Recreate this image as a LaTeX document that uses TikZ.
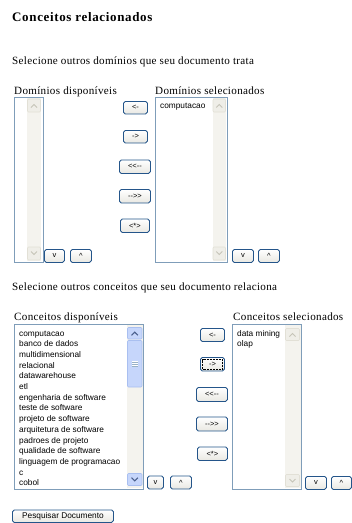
\documentclass[tikz,border=0pt]{standalone}
\usepackage{fontspec}
\setmainfont{Liberation Serif}
\newfontfamily\uifont{Liberation Sans}
\newfontfamily\spacedserif[LetterSpace=2.8]{Liberation Serif}
\newfontfamily\spacedbold[LetterSpace=5,BoldFont={Liberation Serif Bold}]{Liberation Serif}
\definecolor{lbborder}{HTML}{7F9DB9}
\definecolor{btnborder}{HTML}{24558A}
\definecolor{btntop}{HTML}{FFFFFF}
\definecolor{btnbot}{HTML}{E9E8E2}
\definecolor{track}{HTML}{F4F3EE}
\definecolor{arrfill}{HTML}{EFEEE8}
\definecolor{arrline}{HTML}{E2E0D6}
\definecolor{arrglyph}{HTML}{C6C4B8}
\definecolor{actfill}{HTML}{C6D6FB}
\definecolor{actline}{HTML}{A9BFF0}
\definecolor{actglyph}{HTML}{4A5F8C}
\tikzset{
  heading/.style={font=\spacedbold\bfseries\fontsize{13}{15}\selectfont, anchor=base west, inner sep=0pt},
  prompt/.style={font=\spacedserif\fontsize{11.1}{13}\selectfont, anchor=base west, inner sep=0pt},
  caption/.style={font=\spacedserif\fontsize{11.1}{13}\selectfont, anchor=base west, inner sep=0pt},
  item/.style={font=\uifont\fontsize{8.3}{10}\selectfont, anchor=base west, inner sep=0pt},
  listbox/.style={draw=lbborder, fill=white, line width=0.9pt, anchor=north west, inner sep=0pt},
  btnbox/.style={draw=btnborder, line width=0.9pt, rounded corners=1.8pt, top color=btntop, bottom color=btnbot,
    anchor=north west, inner sep=0pt, font=\uifont\fontsize{7.5}{9}\selectfont},
  trackbar/.style={fill=track},
  arrbox/.style={fill=arrfill, draw=arrline, line width=0.6pt, rounded corners=1pt},
  arrglyphs/.style={draw=arrglyph, line width=0.9pt},
  actbox/.style={fill=actfill, draw=actline, line width=0.6pt, rounded corners=1pt},
  actglyphs/.style={draw=actglyph, line width=1.1pt},
}
\begin{document}
\begin{tikzpicture}[x=1pt, y=-1pt]
\useasboundingbox[fill=white] (0,0) rectangle (352,523);

% ---------- headings ----------
\node[heading] (title) at (12,21.5) {Conceitos relacionados};
\node[prompt] (pdom) at (12,64.5) {Selecione outros domínios que seu documento trata};
\node[caption] (cdd) at (14,94.5) {Domínios disponíveis};
\node[caption] (cds) at (155,94.5) {Domínios selecionados};

% ---------- domain lists ----------
\node[listbox, minimum width=29pt, minimum height=165pt] (ldd) at (14,97) {};
\fill[trackbar] (27,98) rectangle (41,261);
\draw[arrbox] (27.5,99) rectangle (40.5,112);
\draw[arrglyphs] (31,107.5) -- (34,104.5) -- (37,107.5);
\draw[arrbox] (27.5,247) rectangle (40.5,260);
\draw[arrglyphs] (31,251.5) -- (34,254.5) -- (37,251.5);

\node[listbox, minimum width=72pt, minimum height=165pt] (lds) at (155,97) {};
\fill[trackbar] (212.5,98) rectangle (226,261);
\draw[arrbox] (213,99) rectangle (225.5,112);
\draw[arrglyphs] (216.3,107.5) -- (219.3,104.5) -- (222.3,107.5);
\draw[arrbox] (213,247) rectangle (225.5,260);
\draw[arrglyphs] (216.3,251.5) -- (219.3,254.5) -- (222.3,251.5);
\node[item] (ds1) at (160,108.5) {computacao};

% ---------- domain buttons ----------
\node[btnbox, minimum width=24pt, minimum height=12.5pt] (dl) at (123,101) {<-};
\node[btnbox, minimum width=24pt, minimum height=12.5pt] (dr) at (123,130) {->};
\node[btnbox, minimum width=31pt, minimum height=13.5pt] (dll) at (119,159.5) {<<--};
\node[btnbox, minimum width=31pt, minimum height=13.5pt] (drr) at (119,189) {-->>};
\node[btnbox, minimum width=29pt, minimum height=13.5pt] (dsw) at (120,218.5) {<*>};
\node[btnbox, minimum width=20pt, minimum height=13pt] (ddv) at (44,249) {v};
\node[btnbox, minimum width=21pt, minimum height=13pt] (ddu) at (70,249) {\^{}};
\node[btnbox, minimum width=21pt, minimum height=13pt] (dsv) at (232,249) {v};
\node[btnbox, minimum width=21pt, minimum height=13pt] (dsu) at (258,249) {\^{}};

% ---------- concept section ----------
\node[prompt] (pcon) at (12,290.5) {Selecione outros conceitos que seu documento relaciona};
\node[caption] (ccd) at (14,320.5) {Conceitos disponíveis};
\node[caption] (ccs) at (233,320.5) {Conceitos selecionados};

\node[listbox, minimum width=129pt, minimum height=165pt] (lcd) at (14,324) {};
\fill[trackbar] (127,325) rectangle (142.5,488);
\draw[actbox] (127.5,327.5) rectangle (142,339);
\draw[actglyphs] (131.5,335.3) -- (134.7,332.2) -- (137.9,335.3);
\draw[actbox] (127.5,340.5) rectangle (142,387);
\draw[white, line width=0.5pt] (132,361) -- (137.5,361) (132,363.2) -- (137.5,363.2) (132,365.4) -- (137.5,365.4);
\draw[lbborder!80, line width=0.4pt] (132,361.8) -- (137.5,361.8) (132,364) -- (137.5,364) (132,366.2) -- (137.5,366.2);
\draw[actbox] (127.5,473.5) rectangle (142,485.5);
\draw[actglyphs] (131.5,477.7) -- (134.7,480.8) -- (137.9,477.7);
\foreach \t [count=\i from 0] in {computacao, banco de dados, multidimensional, relacional,
  datawarehouse, etl, engenharia de software, teste de software, projeto de software,
  arquitetura de software, padroes de projeto, qualidade de software,
  linguagem de programacao, c, cobol}
  \node[item] (cd\i) at (19,{336+10.7*\i}) {\t};

\node[listbox, minimum width=69pt, minimum height=165pt] (lcs) at (232,324) {};
\fill[trackbar] (285,325) rectangle (300.5,488);
\draw[arrbox] (285.5,328.5) rectangle (299.5,340.5);
\draw[arrglyphs] (289.5,336.5) -- (292.5,333.5) -- (295.5,336.5);
\draw[arrbox] (285.5,474.5) rectangle (299.5,486.5);
\draw[arrglyphs] (289.5,479) -- (292.5,482) -- (295.5,479);
\node[item] (cs1) at (237,336) {data mining};
\node[item] (cs2) at (237,346.7) {olap};

% ---------- concept buttons ----------
\node[btnbox, minimum width=24pt, minimum height=13pt] (cl) at (200,328) {<-};
\node[btnbox, minimum width=24pt, minimum height=13.5pt] (cr) at (200,357) {->};
\draw[densely dotted, line width=0.5pt] ([shift={(2.5pt,2.5pt)}]cr.south west) rectangle ([shift={(-2.5pt,-2.5pt)}]cr.north east);
\node[btnbox, minimum width=31pt, minimum height=14pt] (cll) at (196,387) {<<--};
\node[btnbox, minimum width=31pt, minimum height=14pt] (crr) at (196,416.5) {-->>};
\node[btnbox, minimum width=30pt, minimum height=13.5pt] (csw) at (197,446.5) {<*>};
\node[btnbox, minimum width=16pt, minimum height=13pt] (cdv) at (147,475.5) {v};
\node[btnbox, minimum width=21pt, minimum height=13pt] (cdu) at (170,475.5) {\^{}};
\node[btnbox, minimum width=21pt, minimum height=13pt] (csv) at (305,476) {v};
\node[btnbox, minimum width=20pt, minimum height=13pt] (csu) at (331,476) {\^{}};

% ---------- search ----------
\node[btnbox, minimum width=101pt, minimum height=12.5pt, font=\uifont\fontsize{8.3}{10}\selectfont] (search) at (12,509.5) {Pesquisar Documento};
\end{tikzpicture}
\end{document}
